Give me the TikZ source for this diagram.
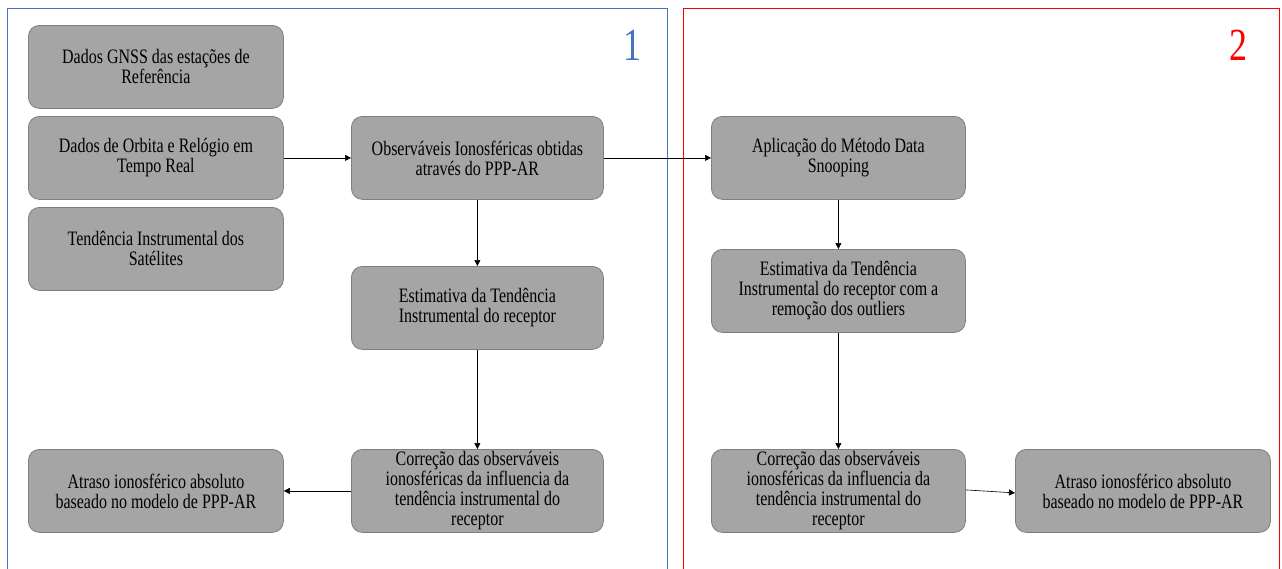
\documentclass[tikz,border=0pt]{standalone}
\usepackage{fontspec}
\setmainfont{Liberation Serif}[FakeStretch=0.78]
\usetikzlibrary{arrows.meta}
\definecolor{boxfill}{HTML}{A5A5A5}
\definecolor{boxborder}{HTML}{7F7F7F}
\definecolor{frameblue}{HTML}{4472C4}
\definecolor{framered}{HTML}{FF0000}
\begin{document}
\begin{tikzpicture}[x=1pt,y=-1pt,
  box/.style={draw=boxborder, fill=boxfill, rounded corners=11pt, line width=0.8pt,
    minimum width=255pt, minimum height=83pt, align=center, anchor=north west,
    font=\fontsize{20.5}{20}\selectfont, inner sep=2pt},
  conn/.style={-{Triangle[length=6pt,width=6pt]}, line width=0.6pt},
  frame/.style={line width=0.8pt},
  num/.style={font=\fontsize{46}{46}\selectfont}]
\useasboundingbox (0,0) rectangle (1282,568);
\clip (0,0) rectangle (1282,568);
\draw[frame, draw=frameblue] (7,8) rectangle (667,600);
\draw[frame, draw=framered] (683,8) rectangle (1279,600);
\node[num, text=frameblue] (n1) at (632,45) {1};
\node[num, text=framered] (n2) at (1238,45) {2};

\node[box] (gnss) at (28,25) {Dados GNSS das estações de\\Referência};
\node[box] (orb) at (28,116) {Dados de Orbita e Relógio em\\Tempo Real};
\node[box] (tend) at (28,207) {Tendência Instrumental dos\\Satélites};
\node[box, minimum width=252pt] (obs) at (351,116) {Observáveis Ionosféricas obtidas\\através do PPP-AR};
\node[box, minimum width=252pt] (est1) at (351,266) {Estimativa da Tendência\\Instrumental do receptor};
\node[box, minimum width=252pt] (cor1) at (351,449) {Correção das observáveis\\ionosféricas da influencia da\\tendência instrumental do\\receptor};
\node[box] (atr1) at (28,449) {Atraso ionosférico absoluto\\baseado no modelo de PPP-AR};

\node[box, minimum width=254pt] (apl) at (711,116) {Aplicação do Método Data\\Snooping};
\node[box, minimum width=254pt] (est2) at (711,249) {Estimativa da Tendência\\Instrumental do receptor com a\\remoção dos outliers};
\node[box, minimum width=254pt] (cor2) at (711,449) {Correção das observáveis\\ionosféricas da influencia da\\tendência instrumental do\\receptor};
\node[box] (atr2) at (1015,449) {Atraso ionosférico absoluto\\baseado no modelo de PPP-AR};

\draw[conn] (orb) -- (obs);
\draw[conn] (obs) -- (est1);
\draw[conn] (est1) -- (cor1);
\draw[conn] (cor1) -- (atr1);
\draw[conn] (obs) -- (apl);
\draw[conn] (apl) -- (est2);
\draw[conn] (est2) -- (cor2);
\draw[conn] ([yshift=1pt]cor2.east) -- ([yshift=-2pt]atr2.west);
\end{tikzpicture}
\end{document}
